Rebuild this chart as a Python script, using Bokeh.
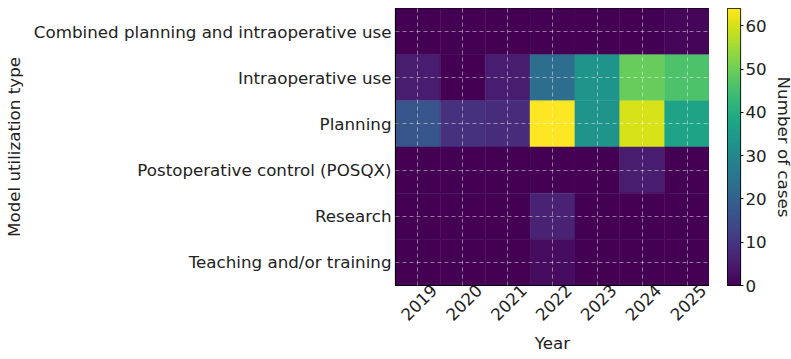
import math
import numpy as np
from bokeh.plotting import figure
from bokeh.layouts import row
from bokeh.models import (ColumnDataSource, LinearColorMapper, FixedTicker,
                          Range1d, LinearAxis, Grid)
from bokeh.palettes import Viridis256
from bokeh.embed import file_html
from bokeh.resources import INLINE

years = ["2019", "2020", "2021", "2022", "2023", "2024", "2025"]
types = [
    "Combined planning and intraoperative use",
    "Intraoperative use",
    "Planning",
    "Postoperative control (POSQX)",
    "Research",
    "Teaching and/or training",
]
combined = [0, 0, 0, 0, 0, 0, 1]
intraoperative = [5, 0, 5, 23, 33, 49, 46]
planning = [17, 9, 8, 64, 33, 60, 37]
postoperative = [0, 0, 0, 0, 0, 5, 0]
research = [0, 0, 0, 6, 0, 0, 0]
teaching = [0, 0, 0, 2, 0, 0, 0]
counts = [combined, intraoperative, planning, postoperative, research, teaching]
cbar_ticks = [0, 10, 20, 30, 40, 50, 60]
cmax = 64

# one cell per (type, year); positions are the list indices
xs, ys, vs = [], [], []
for ti, vals in enumerate(counts):
    for yi, v in enumerate(vals):
        xs.append(yi)
        ys.append(ti)
        vs.append(v)
src = ColumnDataSource(dict(year=xs, kind=ys, cases=vs))

FONT = "DejaVu Sans"
FS = "16.7px"
TXT = "#222222"
mapper = LinearColorMapper(palette=Viridis256, low=0, high=cmax)

nx, ny = len(years), len(types)
p = figure(height=359, output_backend="svg", toolbar_location=None,
           x_range=Range1d(-0.5, nx - 0.5), y_range=Range1d(ny - 0.5, -0.5),
           frame_width=314, frame_height=277,
           min_border_left=0, min_border_top=8, min_border_bottom=0,
           min_border_right=0, x_axis_type=None, y_axis_type=None)

p.rect(x="year", y="kind", width=1, height=1, source=src,
       fill_color={"field": "cases", "transform": mapper},
       line_color={"field": "cases", "transform": mapper}, line_width=0.5)

p.outline_line_color = "black"
p.outline_line_width = 1.2


def style_axis(ax):
    ax.major_tick_in = 4
    ax.major_tick_out = 0
    ax.minor_tick_line_color = None
    ax.axis_line_color = "black"
    ax.major_label_text_font = FONT
    ax.major_label_text_font_size = FS
    ax.major_label_text_color = TXT
    ax.axis_label_text_font = FONT
    ax.axis_label_text_font_size = FS
    ax.axis_label_text_font_style = "normal"
    ax.axis_label_text_color = TXT


# x axis: inward ticks only; year labels come from a companion axis so the
# rotated text sits centred under each column
x_ticks = FixedTicker(ticks=list(range(nx)))
xaxis = LinearAxis(ticker=x_ticks)
style_axis(xaxis)
xaxis.major_label_text_font_size = "0px"
xaxis.major_label_text_color = None
xaxis.major_label_standoff = 0
p.add_layout(xaxis, "below")

p.extra_x_ranges = {"yr": Range1d(start=-0.5 - 0.36, end=nx - 0.5 - 0.36)}
year_axis = LinearAxis(x_range_name="yr", ticker=FixedTicker(ticks=list(range(nx))),
                       major_label_overrides={i: y for i, y in enumerate(years)},
                       axis_label="Year")
style_axis(year_axis)
year_axis.axis_line_color = None
year_axis.major_tick_line_color = None
year_axis.major_tick_in = 0
year_axis.major_label_orientation = math.pi / 4
year_axis.major_label_standoff = 2
year_axis.axis_label_standoff = 4
p.add_layout(year_axis, "below")

y_ticks = FixedTicker(ticks=list(range(ny)))
yaxis = LinearAxis(ticker=y_ticks,
                   major_label_overrides={i: t for i, t in enumerate(types)},
                   axis_label="Model utilization type")
style_axis(yaxis)
yaxis.major_label_standoff = 4
yaxis.axis_label_standoff = 7
p.add_layout(yaxis, "left")

# dashed white grid through the cell centres, drawn over the cells
for dim, tk in ((0, x_ticks), (1, y_ticks)):
    p.add_layout(Grid(dimension=dim, ticker=tk, level="overlay",
                      grid_line_color="white", grid_line_alpha=0.45,
                      grid_line_dash="4 3", grid_line_width=1))

# colour bar: a narrow figure showing the colour ramp with its own scale
cb = figure(height=359, output_backend="svg", toolbar_location=None,
            x_range=Range1d(0, 1), y_range=Range1d(0, cmax),
            frame_width=13, frame_height=277,
            min_border_left=0, min_border_top=8, min_border_bottom=74,
            min_border_right=0, x_axis_type=None, y_axis_type=None)
ramp = np.linspace(0, cmax, 256).reshape(-1, 1)
cb.image(image=[ramp], x=0, y=0, dw=1, dh=cmax, color_mapper=mapper)
cb.outline_line_color = "black"
cb.outline_line_width = 1.2
cb.xgrid.visible = False
cb.ygrid.visible = False

cb_axis = LinearAxis(ticker=FixedTicker(ticks=cbar_ticks),
                     axis_label="Number of cases")
style_axis(cb_axis)
cb_axis.axis_line_color = None
cb_axis.major_tick_in = 0
cb_axis.major_tick_out = 3
cb_axis.major_label_standoff = 2
cb_axis.axis_label_standoff = 4
cb.add_layout(cb_axis, "right")

layout = row(p, cb, spacing=18)
open("out.html", "w").write(file_html(layout, INLINE))
